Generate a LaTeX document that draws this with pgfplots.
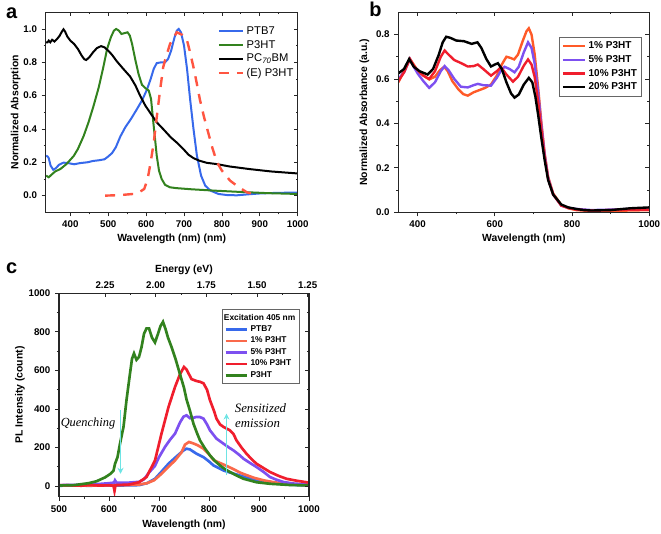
\documentclass[border=0pt]{standalone}
\usepackage{fontspec}
\setmainfont{Liberation Sans}
\newfontfamily\serifit{Liberation Serif}
\usepackage{pgfplots}
\pgfplotsset{compat=1.18}
\usetikzlibrary{arrows.meta}

\definecolor{ablue}{RGB}{55,105,235}
\definecolor{agreen}{RGB}{50,130,30}
\definecolor{ared}{RGB}{255,85,65}
\definecolor{borange}{RGB}{255,90,40}
\definecolor{bpurple}{RGB}{125,80,240}
\definecolor{bred}{RGB}{240,30,45}
\definecolor{corange}{RGB}{250,105,75}
\definecolor{ccyan}{RGB}{110,228,228}

\pgfplotsset{
  panel/.style={
    scale only axis,
    axis line style={line width=0.8pt, black!85},
    major tick length=3pt, minor tick length=1.6pt,
    every tick/.append style={black!85, line width=0.6pt},
    tick label style={font=\fontsize{7.3}{8}\selectfont\bfseries},
    label style={font=\fontsize{7.8}{9}\selectfont\bfseries},
    /pgf/number format/assume math mode=true,
    /pgf/number format/1000 sep={},
    minor x tick num=1, minor y tick num=1,
  },
  mainp/.style={panel, tick pos=left, tick align=outside},
  mirrorp/.style={panel, tick pos=right, tick align=inside, xticklabels={}, yticklabels={}},
}

\begin{document}
\begin{tikzpicture}
\useasboundingbox (0,0) rectangle (495.75pt,-400.5pt);

% ---------------- panel a ----------------
\begin{axis}[mainp, at={(34.275pt,-159.225pt)}, anchor=south west,
  width=189pt, height=150pt,
  xmin=335, xmax=1000, ymin=-0.1, ymax=1.1,
  xtick={400,500,...,1000}, ytick={0,0.2,0.4,0.6,0.8,1.0},
  yticklabel style={/pgf/number format/fixed, /pgf/number format/precision=1, /pgf/number format/fixed zerofill},
  xlabel={Wavelength (nm) (nm)}, ylabel={Normalized Absorption},
  xlabel style={at={(axis description cs:0.5,-0.133)}, anchor=center},
  ylabel style={at={(axis description cs:-0.119,0.5)}, anchor=center},
  legend style={at={(0.676,0.95)}, anchor=north west, draw=none, fill=none,
    font=\fontsize{8.4}{9}\selectfont, row sep=-1pt, inner sep=1pt},
  legend cell align=left,
  legend image code/.code={\draw[#1] (0pt,0pt) -- (18pt,0pt);},
]
\addplot[ablue, line width=1.5pt] coordinates {
(336,0.24) (340,0.235) (343,0.225) (348,0.18) (355,0.155) (362,0.165) (370,0.185) (382,0.198) (395,0.195) (410,0.188) (425,0.195) (445,0.2) (460,0.208) (475,0.212) (490,0.218) (500,0.235) (510,0.255) (520,0.29) (532,0.355) (545,0.41) (560,0.46) (576,0.52) (590,0.575) (602,0.635) (612,0.7) (620,0.76) (628,0.795) (640,0.8) (650,0.8) (658,0.82) (666,0.87) (675,0.95) (681,0.99) (686,1.0) (692,0.98) (700,0.9) (708,0.76) (716,0.58) (725,0.4) (734,0.24) (745,0.12) (756,0.06) (770,0.03) (791,0.01) (815,0.003) (840,0.002) (870,0.008) (900,0.013) (950,0.017) (1000,0.018)};
\addlegendentry{PTB7}
\addplot[agreen, line width=1.5pt] coordinates {
(336,0.12) (343,0.11) (350,0.125) (360,0.145) (374,0.16) (390,0.19) (409,0.238) (420,0.28) (435,0.357) (448,0.44) (461,0.536) (475,0.65) (487,0.77) (497,0.88) (507,0.95) (515,0.99) (521,1.0) (528,0.99) (535,0.97) (543,0.975) (551,0.98) (557,0.96) (563,0.91) (571,0.82) (580,0.73) (589,0.665) (598,0.645) (607,0.63) (613,0.58) (619,0.44) (624,0.33) (628,0.24) (634,0.15) (641,0.1) (650,0.065) (663,0.05) (680,0.045) (720,0.038) (780,0.03) (850,0.022) (920,0.015) (1000,0.01)};
\addlegendentry{P3HT}
\addplot[black, line width=1.5pt] coordinates {
(336,0.92) (340,0.92) (343,0.93) (347,0.92) (352,0.935) (358,0.925) (365,0.94) (372,0.96) (378,0.985) (382,0.998) (386,0.985) (392,0.955) (400,0.93) (410,0.91) (420,0.88) (430,0.84) (437,0.818) (442,0.814) (450,0.83) (460,0.86) (470,0.885) (481,0.897) (490,0.89) (500,0.87) (510,0.845) (523,0.805) (540,0.76) (558,0.714) (572,0.66) (584,0.6) (598,0.54) (611,0.496) (628,0.44) (646,0.397) (665,0.35) (681,0.318) (690,0.298) (700,0.275) (712,0.245) (725,0.225) (740,0.21) (760,0.197) (787,0.189) (820,0.175) (874,0.159) (930,0.145) (1000,0.133)};
\addlegendentry{PC\textsubscript{\itshape 70}BM}
\addplot[ared, line width=1.8pt, dash pattern=on 7.5pt off 6pt] coordinates {
(492,0) (530,0.003) (576,0.012) (595,0.04) (604,0.1) (612,0.2) (620,0.317) (628,0.47) (637,0.635) (645,0.77) (650,0.813) (663,0.91) (681,0.98) (695,0.965) (707,0.94) (716,0.86) (725,0.77) (734,0.67) (742,0.575) (753,0.47) (764,0.377) (775,0.285) (787,0.2) (800,0.15) (822,0.089) (845,0.05) (866,0.02) (883,0.01)};
\addlegendentry{(E) P3HT}
\end{axis}
\begin{axis}[mirrorp, at={(34.275pt,-159.225pt)}, anchor=south west,
  width=189pt, height=150pt,
  xmin=335, xmax=1000, ymin=-0.1, ymax=1.1,
  xtick={400,500,...,1000}, ytick={0,0.2,0.4,0.6,0.8,1.0}]
\end{axis}
\node[anchor=base west, font=\fontsize{15}{15}\selectfont\bfseries] at (1pt,-13.75pt) {a};

% ---------------- panel b ----------------
\begin{axis}[mainp, at={(298.725pt,-159.225pt)}, anchor=south west,
  width=188.25pt, height=150pt,
  xmin=350, xmax=1000, ymin=0, ymax=0.9,
  xtick={400,600,800,1000}, ytick={0,0.2,0.4,0.6,0.8},
  yticklabel style={/pgf/number format/fixed, /pgf/number format/precision=1, /pgf/number format/fixed zerofill},
  xlabel={Wavelength (nm)}, ylabel={Normalized Absorbance (a.u.)},
  xlabel style={at={(axis description cs:0.5,-0.133)}, anchor=center},
  ylabel style={at={(axis description cs:-0.135,0.5)}, anchor=center},
  legend style={at={(0.641,0.878)}, anchor=north west, draw=black!60, line width=0.6pt,
    font=\fontsize{7.5}{8.5}\selectfont\bfseries, row sep=-0.5pt, inner sep=1.5pt},
  legend cell align=left,
  legend image code/.code={\draw[#1, line width=1.8pt] (0pt,0pt) -- (16.5pt,0pt);},
]
\addplot[borange, line width=1.8pt] coordinates {
(350,0.585) (360,0.62) (370,0.655) (380,0.69) (390,0.665) (400,0.635) (415,0.615) (430,0.598) (445,0.61) (458,0.64) (469,0.655) (478,0.635) (490,0.59) (505,0.555) (518,0.532) (530,0.525) (545,0.54) (560,0.55) (575,0.56) (590,0.575) (605,0.615) (618,0.665) (630,0.70) (640,0.695) (650,0.688) (660,0.71) (672,0.77) (682,0.815) (688,0.828) (695,0.8) (703,0.713) (712,0.563) (720,0.414) (729,0.265) (738,0.16) (751,0.085) (772,0.033) (790,0.018) (811,0.01) (850,0.006) (900,0.007) (950,0.008) (1000,0.01)};
\addlegendentry{1\% P3HT}
\addplot[bpurple, line width=1.8pt] coordinates {
(350,0.6) (365,0.63) (380,0.69) (390,0.655) (400,0.625) (415,0.59) (430,0.56) (445,0.585) (460,0.635) (470,0.658) (480,0.64) (495,0.6) (512,0.565) (530,0.562) (545,0.572) (556,0.578) (570,0.572) (590,0.57) (605,0.605) (615,0.635) (625,0.655) (638,0.645) (651,0.63) (662,0.655) (675,0.72) (686,0.765) (695,0.74) (703,0.67) (712,0.54) (720,0.40) (729,0.26) (738,0.155) (751,0.08) (772,0.03) (790,0.02) (811,0.015) (850,0.01) (900,0.012) (950,0.015) (1000,0.015)};
\addlegendentry{5\% P3HT}
\addplot[bred, line width=1.8pt] coordinates {
(350,0.59) (365,0.63) (380,0.69) (390,0.66) (400,0.64) (415,0.615) (430,0.60) (445,0.635) (460,0.70) (470,0.728) (480,0.71) (495,0.685) (512,0.672) (530,0.656) (545,0.658) (556,0.665) (570,0.645) (590,0.615) (605,0.635) (616,0.653) (630,0.62) (647,0.588) (660,0.61) (675,0.66) (686,0.688) (695,0.665) (703,0.61) (712,0.5) (720,0.38) (729,0.25) (738,0.15) (751,0.08) (772,0.03) (790,0.02) (811,0.012) (850,0.008) (900,0.01) (950,0.012) (1000,0.012)};
\addlegendentry{10\% P3HT}
\addplot[black, line width=1.8pt] coordinates {
(350,0.625) (365,0.645) (378,0.69) (390,0.655) (405,0.635) (426,0.62) (440,0.645) (455,0.71) (465,0.765) (474,0.79) (485,0.785) (500,0.773) (520,0.77) (540,0.758) (555,0.765) (565,0.74) (578,0.69) (590,0.656) (600,0.665) (608,0.671) (618,0.645) (630,0.585) (642,0.535) (651,0.516) (662,0.53) (675,0.575) (688,0.605) (697,0.585) (705,0.52) (712,0.44) (720,0.34) (729,0.235) (738,0.145) (751,0.08) (772,0.035) (790,0.022) (811,0.015) (830,0.01) (850,0.008) (900,0.01) (950,0.018) (1000,0.022)};
\addlegendentry{20\% P3HT}
\end{axis}
\begin{axis}[mirrorp, at={(298.725pt,-159.225pt)}, anchor=south west,
  width=188.25pt, height=150pt,
  xmin=350, xmax=1000, ymin=0, ymax=0.9,
  xtick={400,600,800,1000}, ytick={0,0.2,0.4,0.6,0.8}]
\end{axis}
\node[anchor=base west, font=\fontsize{15}{15}\selectfont\bfseries] at (273.5pt,-12.5pt) {b};

% ---------------- panel c ----------------
\begin{axis}[mainp, at={(44.25pt,-372.525pt)}, anchor=south west,
  width=187.5pt, height=152.55pt,
  xmin=500, xmax=1000, ymin=-55, ymax=1000,
  xtick={500,600,...,1000}, ytick={0,200,...,1000},
  xlabel={Wavelength (nm)}, ylabel={PL Intensity (count)},
  xlabel style={at={(axis description cs:0.5,-0.136)}, anchor=center},
  ylabel style={at={(axis description cs:-0.156,0.5)}, anchor=center},
  legend style={at={(0.964,0.921)}, anchor=north east, draw=black!60, line width=0.6pt,
    font=\fontsize{6.3}{7}\selectfont\bfseries, row sep=-1.3pt, inner sep=1.2pt},
  legend cell align=left,
  legend image code/.code={\draw[#1, line width=2pt] (0pt,0pt) -- (15.75pt,0pt);},
]
\addlegendimage{empty legend}
\addlegendentry{\hspace{-20pt}Excitation 405 nm}
\addplot[ablue, line width=2pt] coordinates {
(500,2) (530,3) (560,2) (590,3) (620,3) (640,4) (660,5) (676,15) (692,38) (705,75) (719,116) (730,142) (740,165) (749,185) (755,194) (762,190) (775,168) (789,150) (800,128) (809,107) (829,81) (845,68) (862,55) (880,40) (895,30) (920,18) (955,8) (1000,3)};
\addlegendentry{PTB7}
\addplot[corange, line width=2pt] coordinates {
(500,3) (530,4) (560,3) (590,4) (620,5) (640,6) (660,8) (676,15) (690,30) (700,52) (712,82) (722,108) (732,133) (745,175) (752,215) (760,229) (770,220) (778,211) (789,194) (800,165) (809,135) (820,122) (829,112) (849,88) (862,70) (875,57) (890,43) (909,30) (930,20) (955,12) (1000,4)};
\addlegendentry{1\% P3HT}
\addplot[bpurple, line width=2pt] coordinates {
(500,5) (530,6) (550,8) (575,10) (600,15) (610,18) (612,30) (615,18) (640,18) (660,22) (670,35) (680,70) (692,105) (700,150) (712,203) (722,240) (732,272) (742,330) (749,360) (755,367) (762,352) (770,355) (775,359) (782,358) (789,350) (796,320) (802,289) (815,246) (829,220) (840,200) (849,185) (860,163) (869,142) (882,120) (895,99) (910,72) (922,47) (935,33) (949,21) (970,13) (1000,8)};
\addlegendentry{5\% P3HT}
\addplot[bred, line width=2pt] coordinates {
(500,5) (520,4) (545,2) (560,6) (580,3) (600,4) (609,2) (611,-25) (613,5) (640,8) (660,20) (675,47) (692,133) (705,272) (719,410) (732,514) (742,580) (750,618) (755,605) (765,555) (775,545) (782,541) (789,533) (796,500) (802,445) (810,390) (815,350) (822,320) (829,307) (842,289) (849,270) (855,237) (865,200) (875,168) (885,140) (895,116) (910,92) (922,73) (940,52) (955,38) (975,28) (1000,18)};
\addlegendentry{10\% P3HT}
\addplot[agreen, line width=2pt] coordinates {
(500,3) (530,5) (559,15) (575,25) (592,45) (602,62) (609,80) (612,115) (617,150) (622,220) (629,307) (635,446) (642,584) (646,660) (650,688) (655,655) (660,670) (665,720) (670,790) (675,818) (680,818) (686,770) (692,745) (698,790) (703,830) (708,852) (713,815) (718,770) (725,722) (733,660) (742,580) (750,510) (755,450) (762,390) (769,323) (776,275) (782,237) (792,195) (802,159) (812,130) (822,107) (832,88) (842,73) (855,55) (869,38) (895,20) (922,12) (960,6) (1000,3)};
\addlegendentry{P3HT}
\draw[ccyan, line width=1pt, -{Stealth[length=4.5pt,width=4.5pt]}] (axis cs:623,393) -- (axis cs:623,64);
\draw[ccyan, line width=1pt, -{Stealth[length=4.5pt,width=4.5pt]}] (axis cs:835,55) -- (axis cs:835,376);
\node[font=\serifit\itshape\fontsize{9.3}{10}\selectfont] at (axis cs:558,327) {Quenching};
\node[font=\serifit\itshape\fontsize{9.6}{10}\selectfont] at (axis cs:903,407) {Sensitized};
\node[font=\serifit\itshape\fontsize{9.6}{10}\selectfont] at (axis cs:897,327) {emission};
\end{axis}
\begin{axis}[mirrorp, at={(44.25pt,-372.525pt)}, anchor=south west,
  width=187.5pt, height=152.55pt,
  x dir=reverse, xmin=1.2436, xmax=2.477, ymin=-55, ymax=1000,
  xtick={1.25,1.5,1.75,2.0,2.25}, ytick={0,200,...,1000},
  xticklabels={1.25,1.50,1.75,2.00,2.25}, xticklabel pos=right,
  xlabel={Energy (eV)},
  xlabel style={at={(axis description cs:0.5,1.115)}, anchor=center},
]
\end{axis}
\node[anchor=base west, font=\fontsize{15}{15}\selectfont\bfseries] at (1pt,-205pt) {c};
\end{tikzpicture}
\end{document}
